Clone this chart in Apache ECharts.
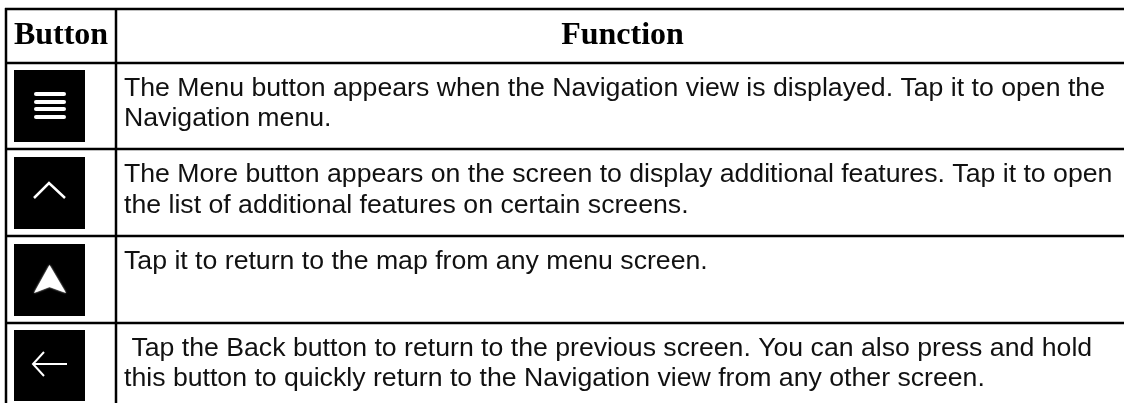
<!DOCTYPE html>
<html><head><meta charset="utf-8">
<style>html,body{margin:0;padding:0;background:#fff}#c{width:1124px;height:403px}</style>
<script src="https://cdn.jsdelivr.net/npm/echarts@6/dist/echarts.min.js"></script>
</head><body><div id="c"></div>
<script>
const headers = ["Button", "Function"];
const buttonIcons = ["menu", "more", "map", "back"];
const functionLines = [
  ["The Menu button appears when the Navigation view is displayed. Tap it to open the", "Navigation menu."],
  ["The More button appears on the screen to display additional features. Tap it to open", "the list of additional features on certain screens."],
  ["Tap it to return to the map from any menu screen."],
  [" Tap the Back button to return to the previous screen. You can also press and hold", "this button to quickly return to the Navigation view from any other screen."]
];
const rowLines = [9, 63, 149, 236, 323];
const colLines = [6, 116];
const iconTops = [70, 157, 244, 330];

const g = [];
const line = (x1,y1,x2,y2,w,c) => g.push({type:'line',shape:{x1,y1,x2,y2},style:{stroke:c||'#000',lineWidth:w}});
rowLines.forEach(y => line(5,y,1124,y,2.5));
colLines.forEach(x => line(x,8,x,403,2.5));
const hfont = 'bold 32px "Liberation Serif"';
g.push({type:'text',style:{text:headers[0],x:61,y:36,align:'center',verticalAlign:'middle',font:hfont,fill:'#000'}});
g.push({type:'text',style:{text:headers[1],x:622.5,y:36,align:'center',verticalAlign:'middle',font:hfont,fill:'#000'}});
const lineCentres = [[89,119],[175,206],[262],[349,379]];
functionLines.forEach((ls,i) => ls.forEach((t,j) => g.push({type:'text',style:{text:t,x:124,y:lineCentres[i][j],align:'left',verticalAlign:'middle',font:'26.67px "Liberation Sans"',fill:'#111'}})));
buttonIcons.forEach((name,i) => {
  const t = iconTops[i];
  g.push({type:'rect',shape:{x:14,y:t,width:71,height:i==3?71:72},style:{fill:'#000'}});
  if(name==='menu'){ [94,102,109,117].forEach(y=>g.push({type:'line',shape:{x1:36,y1:y,x2:64,y2:y},style:{stroke:'#fff',lineWidth:4,lineCap:'round'}})); }
  if(name==='more'){ g.push({type:'polyline',shape:{points:[[34,198],[49,183],[65,198]]},style:{stroke:'#fff',fill:'none',lineWidth:2.5}}); }
  if(name==='map'){ g.push({type:'polygon',shape:{points:[[49.5,265],[66,293],[49.5,287],[34,293]]},style:{fill:'#fff',shadowColor:'#fff',shadowBlur:2}}); }
  if(name==='back'){ g.push({type:'polyline',shape:{points:[[44,352],[33,364],[44,376]]},style:{stroke:'#fff',fill:'none',lineWidth:2}}); g.push({type:'line',shape:{x1:33,y1:364,x2:67,y2:364},style:{stroke:'#fff',lineWidth:2}}); }
});
const chart = echarts.init(document.getElementById('c'),null,{renderer:'canvas'});
chart.setOption({animation:false,backgroundColor:'#fff',graphic:{elements:g}});
</script></body></html>
